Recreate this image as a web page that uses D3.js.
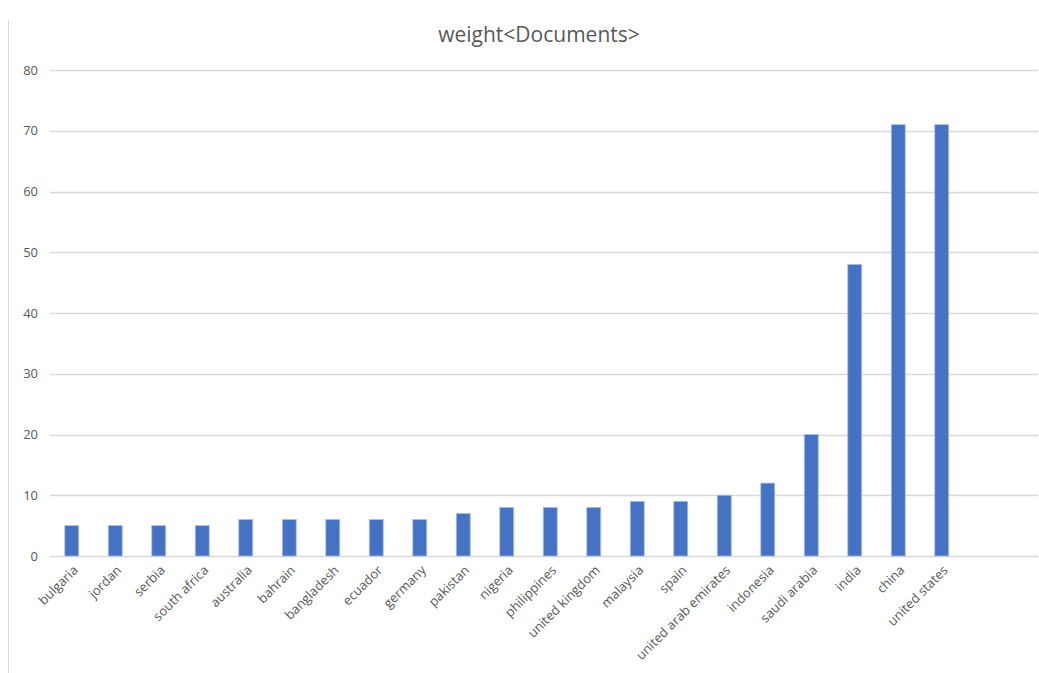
<!DOCTYPE html>
<html>
<head>
<meta charset="utf-8">
<script src="https://cdn.jsdelivr.net/npm/d3@7"></script>
<style>
  body { margin: 0; background: #fff; }
  svg { font-family: "Open Sans", sans-serif; }
</style>
</head>
<body>
<svg id="chart"></svg>
<script>
// data
var countries = ["bulgaria", "jordan", "serbia", "south africa", "australia", "bahrain",
  "bangladesh", "ecuador", "germany", "pakistan", "nigeria", "philippines",
  "united kingdom", "malaysia", "spain", "united arab emirates", "indonesia",
  "saudi arabia", "india", "china", "united states"];
var weights = [5, 5, 5, 5, 6, 6, 6, 6, 6, 7, 8, 8, 8, 9, 9, 10, 12, 20, 48, 71, 71];
var yTicks = [0, 10, 20, 30, 40, 50, 60, 70, 80];

var width = 1039;
var height = 673;
var plotLeft = 50, plotRight = 1038;
var plotTop = 70, plotBottom = 556;
var step = 43.5;

var svg = d3.select("#chart")
    .attr("width", width)
    .attr("height", height);

// 차트 테두리 (왼쪽 선)
svg.append("line")
    .attr("x1", 8.5).attr("x2", 8.5)
    .attr("y1", 20).attr("y2", height)
    .attr("stroke", "#d9d9d9");

var xScale = d3.scaleBand()
    .domain(countries)
    .range([plotLeft, plotLeft + countries.length * step])
    .paddingInner(0.68)
    .paddingOuter(0.34);

var yScale = d3.scaleLinear()
    .domain([0, 80])
    .range([plotBottom, plotTop]);

// gridlines
svg.append("g")
    .selectAll("line")
    .data(yTicks)
    .enter()
    .append("line")
        .attr("x1", plotLeft).attr("x2", plotRight)
        .attr("y1", d => Math.round(yScale(d)) + 0.5)
        .attr("y2", d => Math.round(yScale(d)) + 0.5)
        .attr("stroke", "#d9d9d9")
        .attr("stroke-width", 1.3);

// y axis labels
var yAxis = d3.axisLeft(yScale)
    .tickValues(yTicks)
    .tickSize(0)
    .tickPadding(0);
svg.append("g")
    .attr("transform", "translate(38,0)")
    .call(yAxis)
    .call(g => g.select(".domain").remove())
    .call(g => g.selectAll("text")
        .attr("fill", "#595959")
        .style("font-size", "13px")
        .style("font-family", "'Open Sans', sans-serif"));

// bars
svg.append("g")
    .selectAll("rect")
    .data(weights)
    .enter()
    .append("rect")
        .attr("x", (d, i) => xScale(countries[i]))
        .attr("y", d => yScale(d))
        .attr("width", xScale.bandwidth())
        .attr("height", d => yScale(0) - yScale(d))
        .attr("fill", "#4472c4")
        .attr("stroke", "#a9bde6")
        .attr("stroke-width", 0.8);

// x axis labels
var xAxis = d3.axisBottom(xScale).tickSize(0).tickPadding(0);
svg.append("g")
    .attr("transform", "translate(0," + plotBottom + ")")
    .call(xAxis)
    .call(g => g.select(".domain").remove())
    .call(g => g.selectAll("text")
        .attr("fill", "#595959")
        .attr("text-anchor", "end")
        .attr("y", 0)
        .attr("dy", 0)
        .attr("transform", "translate(7,15) rotate(-45)")
        .style("font-size", "13px")
        .style("font-family", "'Open Sans', sans-serif"));

// title
svg.append("text")
    .attr("x", 539)
    .attr("y", 42)
    .attr("text-anchor", "middle")
    .attr("fill", "#595959")
    .style("font-size", "21px")
    .text("weight<Documents>");
</script>
</body>
</html>
